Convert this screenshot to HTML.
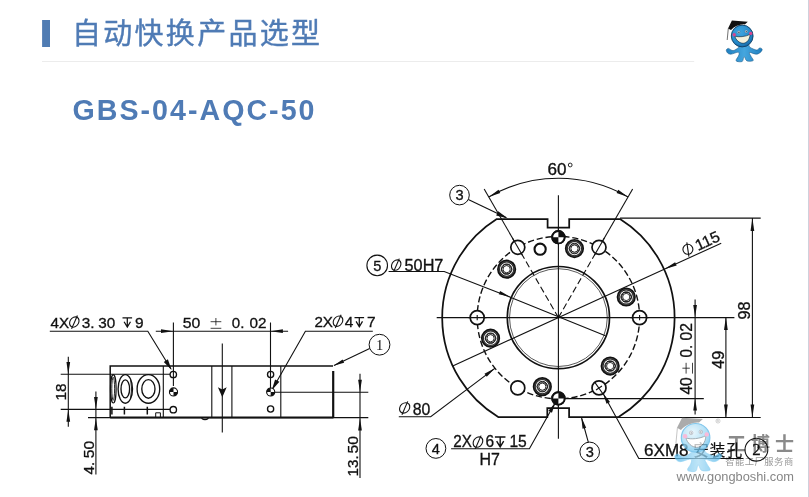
<!DOCTYPE html>
<html lang="zh-CN">
<head>
<meta charset="utf-8">
<title>自动快换产品选型 GBS-04-AQC-50</title>
<style>
html,body{margin:0;padding:0;background:#fff;}
body{width:809px;height:497px;overflow:hidden;position:relative;font-family:"Liberation Sans",sans-serif;}
svg{position:absolute;left:0;top:0;display:block;will-change:transform;}
</style>
</head>
<body>
<svg width="809" height="497" viewBox="0 0 809 497" font-family="'Liberation Sans', sans-serif">
<rect width="809" height="497" fill="#fff"/>
<rect x="808" y="0" width="1" height="497" fill="#cfd0dc"/>
<rect x="42.1" y="20" width="7.9" height="27" fill="#507cb3"/>
<text x="72" y="44.3" font-family="'Liberation Sans', 'Noto Sans CJK SC', sans-serif" font-size="29" fill="#4f7bb5" stroke="#4f7bb5" stroke-width="0.4" textLength="248" lengthAdjust="spacing">自动快换产品选型</text>
<rect x="42" y="61" width="652.2" height="1" fill="#ececec"/>
<text x="72.5" y="120.1" font-family="'Liberation Sans', sans-serif" font-size="28.6" font-weight="bold" fill="#4f7bb5" textLength="242" lengthAdjust="spacing">GBS-04-AQC-50</text>
<g transform="translate(742.2 36) scale(1)">
<defs><radialGradient id="hga" cx="0.4" cy="0.32" r="0.78"><stop offset="0" stop-color="#3fa6e0"/><stop offset="0.65" stop-color="#2489ca"/><stop offset="1" stop-color="#125a94"/></radialGradient>
<linearGradient id="bga" x1="0" y1="0" x2="1" y2="0"><stop offset="0" stop-color="#1f7fc0"/><stop offset="0.5" stop-color="#45a6de"/><stop offset="1" stop-color="#1f7fc0"/></linearGradient></defs>
<path d="M-2.5 9.3C-4.1 9.6 -2.4 10.5 -3.5 11.4C-4.6 12.3 -7.4 14.4 -9.1 14.6C-10.8 14.7 -12.6 12.5 -13.7 12.4C-14.8 12.3 -15.7 13.3 -15.9 14.1C-16.0 14.8 -15.4 16.3 -14.6 17.0C-13.9 17.7 -12.9 18.3 -11.3 18.2C-9.6 18.1 -6.1 16.4 -4.7 16.3C-3.4 16.1 -3.2 16.6 -3.1 17.2C-2.9 17.9 -3.3 19.0 -3.8 20.1C-4.3 21.2 -5.7 22.9 -6.0 23.7C-6.2 24.6 -6.2 25.1 -5.2 25.4C-4.2 25.7 -1.1 26.2 0.1 25.4C1.3 24.6 1.1 20.7 1.9 20.6C2.7 20.5 3.2 24.3 4.7 24.9C6.2 25.6 10.2 25.4 11.0 24.6C11.7 23.8 9.5 21.7 8.9 20.4C8.3 19.0 6.5 16.9 7.3 16.5C8.2 16.1 12.0 18.2 13.8 18.2C15.7 18.2 17.2 17.2 18.2 16.4C19.2 15.6 20.1 14.1 20.0 13.4C19.9 12.6 18.5 11.8 17.6 11.9C16.7 12.0 16.1 14.0 14.5 14.0C12.8 13.9 9.3 12.2 7.9 11.4C6.6 10.6 8.0 9.6 6.2 9.3C4.5 8.9 -0.8 8.9 -2.5 9.3Z" fill="url(#bga)" stroke="#12507f" stroke-width="0.5"/>
<circle cx="0" cy="0" r="10.9" fill="url(#hga)" stroke="#0e3d63" stroke-width="0.9"/>
<path d="M-10.3 -15.4L5.6 -14.3L2.6 -11.6C-1.5 -12.2 -7.5 -10 -11.2 -6L-14.2 -7.6Z" fill="#111"/>
<path d="M-13.9 -7.6L-15 4" stroke="#333" stroke-width="0.7" fill="none"/>
<path d="M-7.4 0.1C-3.8 1.4 3.4 0.8 7.9 -1.7C7.7 3.8 4.4 7.3 0.9 7.3C-2.9 7.3 -6.5 3.8 -7.4 0.1Z" fill="#f4f1dc" stroke="#10304a" stroke-width="0.7"/>
<circle cx="-8" cy="-1.2" r="1.7" fill="#d9468f"/><circle cx="8.5" cy="-2.6" r="1.7" fill="#d9468f"/>
<circle cx="-3.4" cy="-3.8" r="1.35" fill="#fff" stroke="#246" stroke-width="0.35"/><circle cx="4" cy="-4.5" r="1.35" fill="#fff" stroke="#246" stroke-width="0.35"/>
<circle cx="-3.3" cy="-3.7" r="0.7" fill="#123"/><circle cx="4" cy="-4.4" r="0.7" fill="#123"/>
</g>
<text x="727" y="451" font-family="'Liberation Sans', 'Noto Sans CJK SC', sans-serif" font-size="19" font-weight="bold" fill="#8a8a8a" textLength="67" lengthAdjust="spacing">工博士</text>
<text x="725.2" y="465.2" font-family="'Liberation Sans', 'Noto Sans CJK SC', sans-serif" font-size="9.3" fill="#999" textLength="68" lengthAdjust="spacing">智能工厂服务商</text>
<text x="676.4" y="480.9" font-family="'Liberation Sans', sans-serif" font-size="11.9" fill="#868686" textLength="117.6" lengthAdjust="spacingAndGlyphs">www.gongboshi.com</text>
<g fill="none" stroke="#aaa" stroke-width="0.5"><circle cx="718" cy="421" r="2.1"/><path d="M717.2 422.3V419.8H718.3Q719 420.3 718.3 421H717.2M718.2 421L719 422.3" stroke-width="0.4"/></g>
<g fill="none" stroke="#111" stroke-width="1.1" stroke-linecap="butt">
<path d="M110.2 417.5V366H333" stroke-width="1.5"/>
<path d="M333.2 371V417.5" stroke-width="2.2"/>
<path d="M88 417.6H368.3" stroke-width="1.2"/><path d="M110.2 417.5H333.5" stroke-width="1.8"/>
<path d="M163.3 366V417.5M211.8 366V417.5M231.9 366V417.5M280.8 366V417.5" stroke-width="1.1"/>
<path d="M222.3 343.5V432.6"/>
<path d="M201.5 418.2Q205 421.2 208.5 418.2" stroke-width="1.2"/>
<g stroke-width="1.35"><ellipse cx="125.3" cy="388.9" rx="7.2" ry="14.3"/><ellipse cx="125.3" cy="388.9" rx="4.3" ry="9"/><path d="M130.6 379.5Q132.6 389 130.6 398.5" stroke-width="0.9"/>
<ellipse cx="148.4" cy="388.9" rx="11.3" ry="14.3"/><ellipse cx="148.4" cy="388.9" rx="6.6" ry="9.3"/></g>
<ellipse cx="113.3" cy="388.8" rx="2.8" ry="14.2" stroke-width="1.2"/><ellipse cx="113.2" cy="388.8" rx="1.4" ry="11.5" stroke-width="0.9"/>
<path d="M111.9 406.8V414.4M124.4 406.8V414.4M147.3 406.8V414.4" stroke-width="1.5"/>
<path d="M155.7 417.5V412.8H160.4V417.5" stroke-width="1"/>
<circle cx="173.3" cy="374.5" r="3.2" stroke-width="1.35"/><circle cx="173.3" cy="409.7" r="3.2" stroke-width="1.35"/>
<circle cx="270.6" cy="374.5" r="3.1" stroke-width="1.35"/><circle cx="270.6" cy="409" r="3.1" stroke-width="1.35"/>
<path d="M173.4 322.5V386M270.5 322.5V388M155.8 331.2H288.1"/>
<path d="M49.8 331.3H147.8L171 369"/>
<path d="M372.8 331.2H305.4L272.5 389"/>
<path d="M60.7 374.3H170M60.7 409.4H170M68.3 356.8V426.7"/>
<path d="M95.9 391.5V474.6"/>
<path d="M275 392.2H368.3M360 373.8V478"/>
<circle cx="379.5" cy="344.7" r="10.4" stroke-width="1"/>
<path d="M369.7 348.6L334 365.4"/>
</g>
<g fill="#111" stroke="none">
<path d="M222.3 397.3L217.9 387.2L222.3 389.6L226.7 387.2Z"/>
<path d="M173.40 331.20L161.00 333.05L161.00 329.35Z"/>
<path d="M270.50 331.20L282.90 329.35L282.90 333.05Z"/>
<path d="M171.60 370.00L163.79 361.89L167.88 359.37Z"/>
<path d="M271.80 390.20L275.06 379.40L279.41 381.87Z"/>
<path d="M68.30 374.30L66.45 361.90L70.15 361.90Z"/>
<path d="M68.30 409.40L70.15 421.80L66.45 421.80Z"/>
<path d="M95.90 409.40L94.05 397.00L97.75 397.00Z"/>
<path d="M95.90 417.80L97.75 430.20L94.05 430.20Z"/>
<path d="M360.00 392.20L358.15 379.80L361.85 379.80Z"/>
<path d="M360.00 418.00L361.85 430.40L358.15 430.40Z"/>
<path d="M333.40 365.70L342.59 359.39L344.12 362.65Z"/>
</g>
<g><circle cx="173.5" cy="391.9" r="4.0" fill="#111" stroke="#111" stroke-width="1.2"/><path d="M173.5 391.9V388.4A3.5 3.5 0 0 1 177.0 391.9Z M173.5 391.9V395.4A3.5 3.5 0 0 1 170.0 391.9Z" fill="#fff"/></g>
<g><circle cx="270.7" cy="392" r="4.0" fill="#111" stroke="#111" stroke-width="1.2"/><path d="M270.7 392V388.5A3.5 3.5 0 0 1 274.2 392Z M270.7 392V395.5A3.5 3.5 0 0 1 267.2 392Z" fill="#fff"/></g>
<g fill="none" stroke="#111" stroke-width="1.1">
<path d="M496.75 219.1H547.6V227.5H569.2V219.1H620.05A116.2 116.2 0 0 1 618.58 417.0H569.1V408H547.3V417.0H498.22A116.2 116.2 0 0 1 496.75 219.1Z" stroke-width="1.75" stroke-linejoin="miter"/>
<circle cx="558.4" cy="317.6" r="51.1" stroke-width="1.7"/><circle cx="558.4" cy="317.6" r="48.9" stroke-width="0.7"/>
<circle cx="558.4" cy="317.6" r="81.2" stroke-dasharray="6.2 2.8" stroke-width="1.4"/>
<path d="M558.4 195.2V438.8M436.7 317.6H734.4"/>
<path d="M558.4 317.6L517.80 247.28" stroke-dasharray="6.5 3.2"/>
<path d="M517.80 247.28L484.15 189.00"/>
<path d="M558.4 317.6L599.00 247.28" stroke-dasharray="6.5 3.2"/>
<path d="M599.00 247.28L632.65 189.00"/>
<path d="M488.75 196.96A139.3 139.3 0 0 1 628.05 196.96"/>
<path d="M452.71 365.90L721.21 243.20"/>
<path d="M388.6 271.5H444.2L509.7 296.9L605.4 335.7"/>
<path d="M398.8 416.7H430.7L495.2 368.1"/>
<path d="M451.1 448.7H529.4L555.2 402.8"/>
<path d="M743.5 458.5H638.8L603.4 394"/>
<circle cx="459.5" cy="195.1" r="9.8" stroke-width="1"/><path d="M468.3 199.4L506 217.6"/>
<circle cx="589.7" cy="451.9" r="9.8" stroke-width="1"/><path d="M588.3 442.2L581.6 418"/>
<circle cx="377.2" cy="265.4" r="10.3" stroke-width="1.1"/>
<circle cx="435.9" cy="448.4" r="9.9" stroke-width="1"/>
<circle cx="756.4" cy="449.7" r="11.4" stroke-width="1.1"/>
<path d="M620.05 218.1H760.7M618.58 417.5H760.7M565 398.6H703.8"/>
<path d="M752.4 218.1V417.5M725.9 316.9V417.5M695.1 299.6V316.9M695.1 316.9V398.6M695.1 398.6V414.5"/>
</g>
<g fill="#fff" stroke="#111" stroke-width="1.7">
<circle cx="599.00" cy="247.28" r="7.0"/>
<circle cx="639.60" cy="317.60" r="7.0"/>
<circle cx="599.00" cy="387.92" r="7.0"/>
<circle cx="517.80" cy="387.92" r="7.0"/>
<circle cx="477.20" cy="317.60" r="7.0"/>
<circle cx="517.80" cy="247.28" r="7.0"/>
<circle cx="540.13" cy="249.19" r="5.6" stroke-width="2.1"/>
</g>
<circle cx="574.47" cy="248.55" r="8.1" fill="#fff" stroke="#111" stroke-width="3"/><circle cx="574.47" cy="248.55" r="7.6" fill="none" stroke="#777" stroke-width="0.5"/><circle cx="574.47" cy="248.55" r="5.3" fill="none" stroke="#111" stroke-width="0.9"/><polygon points="579.67,248.55 577.07,253.05 571.87,253.05 569.27,248.55 571.87,244.04 577.07,244.04" fill="none" stroke="#111" stroke-width="0.9"/><circle cx="574.47" cy="248.55" r="3.6" fill="none" stroke="#111" stroke-width="0.9"/>
<circle cx="626.24" cy="296.99" r="8.1" fill="#fff" stroke="#111" stroke-width="3"/><circle cx="626.24" cy="296.99" r="7.6" fill="none" stroke="#777" stroke-width="0.5"/><circle cx="626.24" cy="296.99" r="5.3" fill="none" stroke="#111" stroke-width="0.9"/><polygon points="631.44,296.99 628.84,301.49 623.64,301.49 621.04,296.99 623.64,292.49 628.84,292.49" fill="none" stroke="#111" stroke-width="0.9"/><circle cx="626.24" cy="296.99" r="3.6" fill="none" stroke="#111" stroke-width="0.9"/>
<circle cx="610.17" cy="366.04" r="8.1" fill="#fff" stroke="#111" stroke-width="3"/><circle cx="610.17" cy="366.04" r="7.6" fill="none" stroke="#777" stroke-width="0.5"/><circle cx="610.17" cy="366.04" r="5.3" fill="none" stroke="#111" stroke-width="0.9"/><polygon points="615.37,366.04 612.77,370.55 607.57,370.55 604.97,366.04 607.57,361.54 612.77,361.54" fill="none" stroke="#111" stroke-width="0.9"/><circle cx="610.17" cy="366.04" r="3.6" fill="none" stroke="#111" stroke-width="0.9"/>
<circle cx="542.33" cy="386.65" r="8.1" fill="#fff" stroke="#111" stroke-width="3"/><circle cx="542.33" cy="386.65" r="7.6" fill="none" stroke="#777" stroke-width="0.5"/><circle cx="542.33" cy="386.65" r="5.3" fill="none" stroke="#111" stroke-width="0.9"/><polygon points="547.53,386.65 544.93,391.16 539.73,391.16 537.13,386.65 539.73,382.15 544.93,382.15" fill="none" stroke="#111" stroke-width="0.9"/><circle cx="542.33" cy="386.65" r="3.6" fill="none" stroke="#111" stroke-width="0.9"/>
<circle cx="490.56" cy="338.21" r="8.1" fill="#fff" stroke="#111" stroke-width="3"/><circle cx="490.56" cy="338.21" r="7.6" fill="none" stroke="#777" stroke-width="0.5"/><circle cx="490.56" cy="338.21" r="5.3" fill="none" stroke="#111" stroke-width="0.9"/><polygon points="495.76,338.21 493.16,342.71 487.96,342.71 485.36,338.21 487.96,333.71 493.16,333.71" fill="none" stroke="#111" stroke-width="0.9"/><circle cx="490.56" cy="338.21" r="3.6" fill="none" stroke="#111" stroke-width="0.9"/>
<circle cx="506.63" cy="269.16" r="8.1" fill="#fff" stroke="#111" stroke-width="3"/><circle cx="506.63" cy="269.16" r="7.6" fill="none" stroke="#777" stroke-width="0.5"/><circle cx="506.63" cy="269.16" r="5.3" fill="none" stroke="#111" stroke-width="0.9"/><polygon points="511.83,269.16 509.23,273.66 504.03,273.66 501.43,269.16 504.03,264.65 509.23,264.65" fill="none" stroke="#111" stroke-width="0.9"/><circle cx="506.63" cy="269.16" r="3.6" fill="none" stroke="#111" stroke-width="0.9"/>
<g><circle cx="558.4" cy="237.2" r="6.2" fill="#fff" stroke="#111" stroke-width="1.9"/><path d="M558.4 237.2V231.0A6.2 6.2 0 0 1 564.6 237.2Z M558.4 237.2V243.39999999999998A6.2 6.2 0 0 1 552.1999999999999 237.2Z" fill="#111"/></g>
<g><circle cx="558.4" cy="398.4" r="6.2" fill="#fff" stroke="#111" stroke-width="1.9"/><path d="M558.4 398.4V392.2A6.2 6.2 0 0 1 564.6 398.4Z M558.4 398.4V404.59999999999997A6.2 6.2 0 0 1 552.1999999999999 398.4Z" fill="#111"/></g>
<g fill="none" stroke="#111" stroke-width="1.1">
<path d="M522.40 255.25L512.40 237.93"/>
<path d="M594.40 255.25L604.40 237.93"/>
<path d="M468.4 317.6H486.4M630.4 317.6H648.4M477.2 315.0V320.20000000000005M639.6 315.0V320.20000000000005"/>
<path d="M594.50 381.92L603.20 394.22M596.00 389.92L602.00 385.92"/>
<path d="M558.4 228V245M558.4 390V408"/>
</g>
<g><circle cx="558.4" cy="237.2" r="6.2" fill="#fff" stroke="#111" stroke-width="1.9"/><path d="M558.4 237.2V231.0A6.2 6.2 0 0 1 564.6 237.2Z M558.4 237.2V243.39999999999998A6.2 6.2 0 0 1 552.1999999999999 237.2Z" fill="#111"/></g>
<g><circle cx="558.4" cy="398.4" r="6.2" fill="#fff" stroke="#111" stroke-width="1.9"/><path d="M558.4 398.4V392.2A6.2 6.2 0 0 1 564.6 398.4Z M558.4 398.4V404.59999999999997A6.2 6.2 0 0 1 552.1999999999999 398.4Z" fill="#111"/></g>
<g fill="#111" stroke="none">
<path d="M752.40 218.10L754.25 231.10L750.55 231.10Z"/>
<path d="M752.40 417.50L750.55 404.50L754.25 404.50Z"/>
<path d="M725.90 316.90L727.75 329.90L724.05 329.90Z"/>
<path d="M725.90 417.50L724.05 404.50L727.75 404.50Z"/>
<path d="M695.10 316.90L693.25 304.90L696.95 304.90Z"/>
<path d="M695.10 398.60L696.95 410.60L693.25 410.60Z"/>
<path d="M488.75 196.96L498.53 189.77L500.24 193.05Z"/>
<path d="M628.05 196.96L616.56 193.05L618.27 189.77Z"/>
<path d="M664.09 269.30L675.14 262.22L676.68 265.58Z"/>
<path d="M510.60 297.00L498.75 294.36L500.09 290.92Z"/>
<path d="M495.20 368.10L486.73 376.80L484.50 373.84Z"/>
<path d="M555.60 402.20L551.94 412.77L548.46 410.80Z"/>
<path d="M603.00 393.20L610.04 401.89L606.53 403.81Z"/>
<path d="M508.00 218.50L496.18 215.41L498.16 211.26Z"/>
<path d="M581.40 417.60L586.17 427.69L582.51 428.71Z"/>
</g>
<g font-family="'Liberation Sans', sans-serif" fill="#111" stroke="#111" stroke-width="0.3">
<text x="50.6" y="327.5" font-size="14.8" textLength="18.6" lengthAdjust="spacingAndGlyphs">4X</text>
<text x="81.8" y="327.5" font-size="14.8" textLength="12.8" lengthAdjust="spacingAndGlyphs">3.</text>
<text x="98.3" y="327.5" font-size="14.8" textLength="17" lengthAdjust="spacingAndGlyphs">30</text>
<text x="135.1" y="327.5" font-size="14.8" textLength="8.6" lengthAdjust="spacingAndGlyphs">9</text>
<text x="182.7" y="327.6" font-size="14.8" textLength="17.6" lengthAdjust="spacingAndGlyphs">50</text>
<text x="231.8" y="327.6" font-size="14.8" textLength="12.6" lengthAdjust="spacingAndGlyphs">0.</text>
<text x="249.4" y="327.6" font-size="14.8" textLength="17" lengthAdjust="spacingAndGlyphs">02</text>
<text x="314.4" y="326.9" font-size="14.8" textLength="18.6" lengthAdjust="spacingAndGlyphs">2X</text>
<text x="344.8" y="326.9" font-size="14.8" textLength="8.6" lengthAdjust="spacingAndGlyphs">4</text>
<text x="367" y="326.9" font-size="14.8" textLength="8.6" lengthAdjust="spacingAndGlyphs">7</text>
<text x="65.6" y="400.6" font-size="14.8" textLength="17" lengthAdjust="spacingAndGlyphs" transform="rotate(-90 65.6 400.6)">18</text>
<text x="93.6" y="474.4" font-size="14.8" textLength="12.6" lengthAdjust="spacingAndGlyphs" transform="rotate(-90 93.6 474.4)">4.</text>
<text x="93.6" y="458.2" font-size="14.8" textLength="17.4" lengthAdjust="spacingAndGlyphs" transform="rotate(-90 93.6 458.2)">50</text>
<text x="357.8" y="476.4" font-size="14.8" textLength="21" lengthAdjust="spacingAndGlyphs" transform="rotate(-90 357.8 476.4)">13.</text>
<text x="357.8" y="453.4" font-size="14.8" textLength="17.4" lengthAdjust="spacingAndGlyphs" transform="rotate(-90 357.8 453.4)">50</text>
<text x="547.4" y="174.5" font-size="15.6" textLength="19" lengthAdjust="spacingAndGlyphs">60</text>
<g transform="translate(558.4 317.6) rotate(-24.56)"><text x="154.6" y="-2.6" font-size="15.6" textLength="25.6" lengthAdjust="spacingAndGlyphs">115</text></g>
<text x="404.6" y="270.5" font-size="15.6" textLength="38.8" lengthAdjust="spacingAndGlyphs">50H7</text>
<text x="412.8" y="414.8" font-size="16" textLength="17.6" lengthAdjust="spacingAndGlyphs">80</text>
<text x="453.3" y="447.2" font-size="15.6" textLength="18.6" lengthAdjust="spacingAndGlyphs">2X</text>
<text x="485.4" y="447.2" font-size="15.6" textLength="8.6" lengthAdjust="spacingAndGlyphs">6</text>
<text x="509.4" y="447.2" font-size="15.6" textLength="17.4" lengthAdjust="spacingAndGlyphs">15</text>
<text x="479.4" y="464.8" font-size="15.6" textLength="20.4" lengthAdjust="spacingAndGlyphs">H7</text>
<text x="644" y="455.8" font-size="15.6" textLength="44.6" lengthAdjust="spacingAndGlyphs">6XM8</text>
<text x="750.4" y="319.6" font-size="15.6" textLength="18" lengthAdjust="spacingAndGlyphs" transform="rotate(-90 750.4 319.6)">98</text>
<text x="723.8" y="368.8" font-size="15.6" textLength="18" lengthAdjust="spacingAndGlyphs" transform="rotate(-90 723.8 368.8)">49</text>
<text x="692.4" y="394.6" font-size="15.6" textLength="17.4" lengthAdjust="spacingAndGlyphs" transform="rotate(-90 692.4 394.6)">40</text>
<text x="692.4" y="357.4" font-size="15.6" textLength="12.6" lengthAdjust="spacingAndGlyphs" transform="rotate(-90 692.4 357.4)">0.</text>
<text x="692.4" y="340.4" font-size="15.6" textLength="17.4" lengthAdjust="spacingAndGlyphs" transform="rotate(-90 692.4 340.4)">02</text>
<text x="459.5" y="200.3" font-size="14.6" text-anchor="middle">3</text>
<text x="589.7" y="457.1" font-size="14.6" text-anchor="middle">3</text>
<text x="377.2" y="270.7" font-size="14.6" text-anchor="middle">5</text>
<text x="435.9" y="453.6" font-size="14.6" text-anchor="middle">4</text>
</g>
<text x="379.6" y="349.6" font-family="'Liberation Serif', serif" font-size="14.5" text-anchor="middle" fill="#111">1</text>
<text x="756.4" y="455.4" font-family="'Liberation Serif', serif" font-size="17" text-anchor="middle" fill="#111" stroke="#111" stroke-width="0.3">2</text>
<g transform="translate(74.30 322.05)" fill="none" stroke="#111" stroke-width="1.1"><ellipse cx="0" cy="0" rx="4.6" ry="5.2" transform="skewX(-12)"/><path d="M-2.7 6.8L3.1 -6.5"/></g>
<g transform="translate(122.50 327.40)" fill="none" stroke="#111" stroke-width="1.25"><path d="M0 -9.4H9.6M4.8 -9.4V-0.6M1.6 -5.6L4.8 -0.3L8 -5.6"/></g>
<g transform="translate(338.00 321.20)" fill="none" stroke="#111" stroke-width="1.1"><ellipse cx="0" cy="0" rx="4.7" ry="5.2" transform="skewX(-12)"/><path d="M-2.7 6.8L3.1 -6.5"/></g>
<g transform="translate(354.50 327.00)" fill="none" stroke="#111" stroke-width="1.25"><path d="M0 -9.4H9.6M4.8 -9.4V-0.6M1.6 -5.6L4.8 -0.3L8 -5.6"/></g>
<g transform="translate(396.20 265.10)" fill="none" stroke="#111" stroke-width="1.1"><ellipse cx="0" cy="0" rx="4.6" ry="5.2" transform="skewX(-12)"/><path d="M-2.7 6.8L3.1 -6.5"/></g>
<g transform="translate(404.65 407.90)" fill="none" stroke="#111" stroke-width="1.1"><ellipse cx="0" cy="0" rx="5.0" ry="5.2" transform="skewX(-12)"/><path d="M-2.7 6.8L3.1 -6.5"/></g>
<g transform="translate(477.95 442.10)" fill="none" stroke="#111" stroke-width="1.1"><ellipse cx="0" cy="0" rx="4.7" ry="5.2" transform="skewX(-12)"/><path d="M-2.7 6.8L3.1 -6.5"/></g>
<g transform="translate(494.90 447.30) scale(1.1)" fill="none" stroke="#111" stroke-width="1.25"><path d="M0 -9.4H9.6M4.8 -9.4V-0.6M1.6 -5.6L4.8 -0.3L8 -5.6"/></g>
<g fill="none" stroke="#111" stroke-width="1.1"><circle cx="687.9" cy="249.3" r="5"/><path d="M686.8 242.4L688.9 256.6"/></g>
<circle cx="570.2" cy="165" r="1.9" fill="none" stroke="#111" stroke-width="0.9"/>
<path d="M215.9 318V325.4M210.6 321.7H221.3M210.6 328.3H221.3" fill="none" stroke="#111" stroke-width="0.8"/>
<path d="M682.4 368.2H689.8M686.1 373.6V362.8M692.5 373.6V362.8" fill="none" stroke="#111" stroke-width="0.8"/>
<text x="693.2" y="456.2" font-family="'Liberation Sans', 'Noto Sans CJK SC', sans-serif" font-size="15.6" fill="#111" stroke="#111" stroke-width="0.2" textLength="48.8" lengthAdjust="spacing">安装孔</text>
<g opacity="0.74"><g transform="translate(695.6 437.8) scale(1.31)">
<defs><radialGradient id="hgb" cx="0.4" cy="0.32" r="0.78"><stop offset="0" stop-color="#e3f4fc"/><stop offset="0.65" stop-color="#93d4f3"/><stop offset="1" stop-color="#52b6e9"/></radialGradient>
<linearGradient id="bgb" x1="0" y1="0" x2="1" y2="0"><stop offset="0" stop-color="#55b7ea"/><stop offset="0.5" stop-color="#a9ddf6"/><stop offset="1" stop-color="#55b7ea"/></linearGradient></defs>
<path d="M-2.5 9.3C-4.1 9.6 -2.4 10.5 -3.5 11.4C-4.6 12.3 -7.4 14.4 -9.1 14.6C-10.8 14.7 -12.6 12.5 -13.7 12.4C-14.8 12.3 -15.7 13.3 -15.9 14.1C-16.0 14.8 -15.4 16.3 -14.6 17.0C-13.9 17.7 -12.9 18.3 -11.3 18.2C-9.6 18.1 -6.1 16.4 -4.7 16.3C-3.4 16.1 -3.2 16.6 -3.1 17.2C-2.9 17.9 -3.3 19.0 -3.8 20.1C-4.3 21.2 -5.7 22.9 -6.0 23.7C-6.2 24.6 -6.2 25.1 -5.2 25.4C-4.2 25.7 -1.1 26.2 0.1 25.4C1.3 24.6 1.1 20.7 1.9 20.6C2.7 20.5 3.2 24.3 4.7 24.9C6.2 25.6 10.2 25.4 11.0 24.6C11.7 23.8 9.5 21.7 8.9 20.4C8.3 19.0 6.5 16.9 7.3 16.5C8.2 16.1 12.0 18.2 13.8 18.2C15.7 18.2 17.2 17.2 18.2 16.4C19.2 15.6 20.1 14.1 20.0 13.4C19.9 12.6 18.5 11.8 17.6 11.9C16.7 12.0 16.1 14.0 14.5 14.0C12.8 13.9 9.3 12.2 7.9 11.4C6.6 10.6 8.0 9.6 6.2 9.3C4.5 8.9 -0.8 8.9 -2.5 9.3Z" fill="url(#bgb)" stroke="#6ec3ee" stroke-width="0.5"/>
<circle cx="0" cy="0" r="10.9" fill="url(#hgb)" stroke="#58b4e6" stroke-width="0.9"/>
<path d="M-10.3 -15.4L5.6 -14.3L2.6 -11.6C-1.5 -12.2 -7.5 -10 -11.2 -6L-14.2 -7.6Z" fill="#8e8e8e"/>
<path d="M-13.9 -7.6L-15 4" stroke="#aaa" stroke-width="0.7" fill="none"/>
<path d="M-7.4 0.1C-3.8 1.4 3.4 0.8 7.9 -1.7C7.7 3.8 4.4 7.3 0.9 7.3C-2.9 7.3 -6.5 3.8 -7.4 0.1Z" fill="#fff" stroke="#7a8a94" stroke-width="0.7"/>
<circle cx="-8" cy="-1.2" r="1.7" fill="#f7a3cc"/><circle cx="8.5" cy="-2.6" r="1.7" fill="#f7a3cc"/>
<circle cx="-3.4" cy="-3.8" r="1.35" fill="#fff" stroke="#667" stroke-width="0.35"/><circle cx="4" cy="-4.5" r="1.35" fill="#fff" stroke="#667" stroke-width="0.35"/>
<circle cx="-3.3" cy="-3.7" r="0.7" fill="#9aa4ac"/><circle cx="4" cy="-4.4" r="0.7" fill="#9aa4ac"/>
</g></g>
</svg>
</body>
</html>
